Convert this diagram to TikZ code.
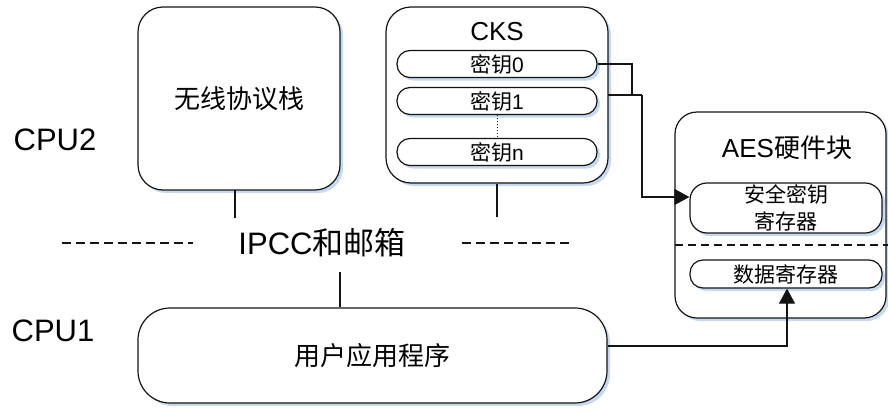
\documentclass[tikz,border=0pt]{standalone}
\usepackage{fontspec}
\setmainfont{Liberation Sans}
\newfontfamily\cjk{Noto Sans CJK SC}
\usetikzlibrary{shadows,arrows.meta}
\definecolor{shadowblue}{RGB}{198,217,240}
\definecolor{lineK}{RGB}{20,20,20}
\tikzset{
  shd/.style={drop shadow={shadow xshift=3pt,shadow yshift=-3pt,shadow scale=1,fill=shadowblue,opacity=1}},
  bigbox/.style={draw=lineK,line width=1.2pt,fill=white,shd,inner sep=0pt},
  pill/.style={draw=lineK,line width=1.2pt,fill=white,shd,inner sep=0pt,rounded corners=13pt},
  big/.style={font=\fontsize{31}{34}\selectfont},
  mid/.style={font=\fontsize{26}{30}\selectfont},
  small/.style={font=\fontsize{21}{27}\selectfont},
  conn/.style={draw=lineK,line width=1.2pt},
  arr/.style={conn,-{Triangle[length=15pt,width=16pt]}},
  dsh/.style={draw=lineK,line width=1.2pt,dash pattern=on 9pt off 5pt},
}
\begin{document}
\begin{tikzpicture}[x=1pt,y=-1pt]
\useasboundingbox (0,0) rectangle (888,407);
% left box
\node[bigbox,rounded corners=25pt,minimum width=202pt,minimum height=183pt,mid] (stack) at (239,98.5) {\cjk 无线协议栈};
% CKS box
\node[bigbox,rounded corners=25pt,minimum width=222pt,minimum height=176pt] (cks) at (497,95) {};
\node[mid] (ckst) at (497,32) {CKS};
\node[pill,minimum width=200pt,minimum height=27pt,small] (k0) at (497,64) {{\cjk 密钥}0};
\node[pill,minimum width=200pt,minimum height=27pt,small] (k1) at (497,101) {{\cjk 密钥}1};
\node[pill,minimum width=200pt,minimum height=27pt,small] (kn) at (497,152) {{\cjk 密钥}n};
\draw[draw=lineK,line width=1pt,dash pattern=on 1pt off 2pt] (k1.south) -- (kn.north);
% AES box
\node[bigbox,rounded corners=22pt,minimum width=211pt,minimum height=206pt] (aes) at (780.5,215) {};
\node[mid] (aest) at (787,148) {AES{\cjk 硬件块}};
\node[pill,rounded corners=17pt,minimum width=192pt,minimum height=50pt,small,align=center] (sec) at (786,208) {\cjk 安全密钥\\\cjk 寄存器};
\coordinate (dl) at (675,245);
\coordinate (dr) at (888,245);
\draw[draw=lineK,line width=1.2pt,dash pattern=on 8pt off 5pt] (dl) -- (dr);
\node[pill,minimum width=192pt,minimum height=28pt,small] (data) at (786,274) {\cjk 数据寄存器};
% app box
\node[bigbox,rounded corners=32pt,minimum width=469pt,minimum height=95pt,mid] (app) at (372.5,355.5) {\cjk 用户应用程序};
% labels
\node[big] (cpu2) at (55,140) {CPU2};
\node[big] (cpu1) at (53,331) {CPU1};
\node[big,inner sep=0pt] (ipcc) at (322,243) {IPCC{\cjk 和邮箱}};
% dashed separators
\coordinate (a1) at (62,243); \coordinate (a2) at (193,243);
\coordinate (b1) at (462,243); \coordinate (b2) at (570,243);
\draw[dsh] (a1) -- (a2);
\draw[dsh] (b1) -- (b2);
% connectors
\coordinate (s1) at (235,190); \coordinate (s2) at (235,218);
\draw[conn] (s1) -- (s2);
\coordinate (c2) at (497,217);
\draw[conn] (cks.south) -- (c2);
\coordinate (i1) at (340,272);
\draw[conn] (i1) -- (i1 |- app.north);
\coordinate (j0) at (632,64);
\coordinate (j1) at (632,95);
\coordinate (m0) at (608,95);
\coordinate (m1) at (642,95);
\coordinate (m2) at (642,197);
\draw[conn] (k0.east) -- (j0) -- (j1);
\draw[conn] (m0) -- (m1);
\draw[arr] (m1) -- (m2) -- (m2 -| sec.west);
\coordinate (p1) at (787,346);
\draw[arr] (app.east |- p1) -- (p1) -- (p1 |- data.south);
\end{tikzpicture}
\end{document}
